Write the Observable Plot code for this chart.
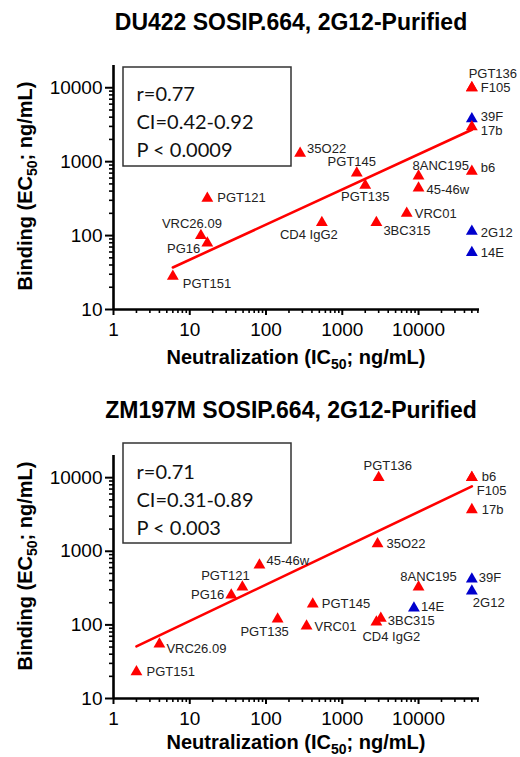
<!DOCTYPE html>
<html>
<head>
<meta charset="utf-8">
<script src="https://cdn.jsdelivr.net/npm/d3@7"></script>
<script src="https://cdn.jsdelivr.net/npm/@observablehq/plot@0.6"></script>
<style>
  html, body { margin: 0; padding: 0; background: #fff; }
  body { width: 520px; font-family: "Liberation Sans", Arial, sans-serif; }
  .title { width: 520px; box-sizing: border-box; padding-left: 62px; text-align: center;
           font-weight: bold; font-size: 23px; color: #000; white-space: nowrap; }
  svg { display: block; }
</style>
</head>
<body>
<div id="root"></div>
<script>
// ---------- data ----------
const titles = ["DU422 SOSIP.664, 2G12-Purified", "ZM197M SOSIP.664, 2G12-Purified"];
const xTitleParts = ["Neutralization (IC", "50", "; ng/mL)"];
const yTitleParts = ["Binding (EC", "50", "; ng/mL)"];
const xMajor = [1, 10, 100, 1000, 10000];
const yMajor = [10, 100, 1000, 10000];
const minorSteps = [2, 3, 4, 5, 6, 7, 8, 9];

// Panel 1: DU422
const names1 = ["PGT151","PG16","VRC26.09","PGT121","35O22","PGT145","PGT135","CD4 IgG2","3BC315","VRC01","8ANC195","45-46w","b6","17b","39F","F105","PGT136","2G12","14E"];
const neut1  = [6, 17, 14, 17, 280, 1550, 2000, 540, 2800, 7000, 10000, 10000, 50000, 50000, 50000, 50000, 50000, 50000, 50000];
const bind1  = [28, 79, 100, 320, 1300, 700, 480, 150, 150, 200, 640, 440, 740, 2950, 3800, 10000, 10000, 114, 59];
const blue1  = ["39F", "2G12", "14E"];
const fitX1  = [6, 50000];
const fitY1  = [37, 2700];
const stats1 = ["r=0.77", "CI=0.42-0.92", "P < 0.0009"];

// Panel 2: ZM197M
const names2 = ["PGT151","VRC26.09","PG16","PGT121","45-46w","PGT135","VRC01","PGT145","PGT136","35O22","3BC315","CD4 IgG2","14E","8ANC195","b6","F105","17b","39F","2G12"];
const neut2  = [2, 4, 35, 49, 82, 142, 340, 410, 3000, 2900, 3200, 2800, 8700, 10000, 50000, 50000, 50000, 50000, 50000];
const bind2  = [23, 55, 254, 327, 650, 120, 96, 191, 10000, 1260, 123, 109, 169, 327, 10000, 10000, 3670, 420, 288];
const blue2  = ["14E", "39F", "2G12"];
const fitX2  = [2, 50000];
const fitY2  = [51, 7600];
const stats2 = ["r=0.71", "CI=0.31-0.89", "P < 0.003"];

// ---------- layout (label placement: dx, dy, anchor) ----------
const pos1 = {
  "PGT151": [10, 7, "start"], "PG16": [-7, 6, "end"], "VRC26.09": [-9, -12, "middle"],
  "PGT121": [10, 0, "start"], "35O22": [7, -4, "start"], "PGT145": [-5, -11, "middle"],
  "PGT135": [0, 12, "middle"], "CD4 IgG2": [-13, 12, "middle"], "3BC315": [7, 8, "start"],
  "VRC01": [8, 0, "start"], "8ANC195": [-6, -10, "start"], "45-46w": [8, 2, "start"],
  "b6": [9, -4, "start"], "17b": [9, 4, "start"], "39F": [9, -2, "start"],
  "F105": [9, 0, "start"], "PGT136": [21, -14, "middle"], "2G12": [9, 1, "start"], "14E": [9, 0, "start"]
};
const pos2 = {
  "PGT151": [10, 0, "start"], "VRC26.09": [7, 5, "start"], "PG16": [-7, 0, "end"],
  "PGT121": [-17, -11, "middle"], "45-46w": [7, -4, "start"], "PGT135": [-13, 13, "middle"],
  "VRC01": [8, 1, "start"], "PGT145": [9, 0, "start"], "PGT136": [9, -12, "middle"],
  "35O22": [9, 0, "start"], "3BC315": [7, 3, "start"], "CD4 IgG2": [15, 15, "middle"],
  "14E": [7, -1, "start"], "8ANC195": [10, -10, "middle"], "b6": [10, -1, "start"],
  "F105": [5, 13, "start"], "17b": [10, 0, "start"], "39F": [7, -1, "start"], "2G12": [1, 12, "start"]
};

const RED = "#ff0000", BLUE = "#0000cd";
const FONT = "'Liberation Sans', Arial, sans-serif";
const X_MAX = 63000, Y_MAX = 20000;
const xMinor = xMajor.flatMap(d => minorSteps.map(k => d * k)).filter(v => v < X_MAX);
const yMinor = yMajor.flatMap(d => minorSteps.map(k => d * k)).filter(v => v < Y_MAX);

function addTitle(svg, parts, x, y, rotate) {
  const t = d3.select(svg).append("text")
    .attr("text-anchor", "middle")
    .attr("font-family", FONT).attr("font-weight", "bold").attr("font-size", 20)
    .attr("fill", "#000")
    .attr("transform", rotate ? `translate(${x},${y}) rotate(-90)` : `translate(${x},${y})`);
  t.append("tspan").text(parts[0]);
  t.append("tspan").attr("font-size", 14).attr("dy", 5).text(parts[1]);
  t.append("tspan").attr("dy", -5).text(parts[2]);
}

function panel(cfg) {
  const data = cfg.names.map((name, i) => ({
    name, neut: cfg.neut[i], bind: cfg.bind[i], color: cfg.blue.includes(name) ? BLUE : RED
  }));
  data.sort((a, b) => (a.color === BLUE ? 0 : 1) - (b.color === BLUE ? 0 : 1));
  const fit = cfg.fitX.map((x, i) => ({x, y: cfg.fitY[i]}));
  const labels = data.map(d => {
    const [dx, dy, anchor] = cfg.pos[d.name];
    return Plot.text([d], {x: "neut", y: "bind", text: "name", dx, dy, textAnchor: anchor,
      fontSize: 13, fill: "#222", fontFamily: FONT});
  });
  const svg = Plot.plot({
    width: 520, height: cfg.height,
    marginLeft: 113, marginRight: 41, marginTop: 20, marginBottom: cfg.mb,
    style: {fontFamily: FONT, background: "white", color: "black", overflow: "visible"},
    x: {type: "log", domain: [1, X_MAX]},
    y: {type: "log", domain: [10, Y_MAX]},
    color: {type: "identity"},
    marks: [
      Plot.axisX({ticks: xMinor, tickSize: 4, tickFormat: () => "", label: null, strokeWidth: 1.6}),
      Plot.axisX({ticks: xMajor, tickSize: 6, tickPadding: 7, tickFormat: d => String(d),
        label: null, fontSize: 19, strokeWidth: 2, fill: "#000"}),
      Plot.axisY({ticks: yMinor, tickSize: 4, tickFormat: () => "", label: null, strokeWidth: 1.6}),
      Plot.axisY({ticks: yMajor, tickSize: 8, tickPadding: 3, tickFormat: d => String(d),
        label: null, fontSize: 19, strokeWidth: 2, fill: "#000"}),
      Plot.ruleY([10], {stroke: "#000", strokeWidth: 2.6}),
      Plot.ruleX([1], {stroke: "#000", strokeWidth: 2.6}),
      Plot.line(fit, {x: "x", y: "y", stroke: RED, strokeWidth: 2.6}),
      Plot.dot(data, {x: "neut", y: "bind", symbol: "triangle", r: 4.4, fill: "color", stroke: "none"}),
      ...labels,
      Plot.text([cfg.stats.join("\n")], {frameAnchor: "top-left", dx: 23, dy: cfg.statsDy,
        textAnchor: "start", lineAnchor: "top", lineHeight: 1.4, fontSize: 20,
        fontFamily: "Lato, 'Open Sans', sans-serif", fill: "#111"})
    ]
  });
  // annotation frame
  d3.select(svg).append("rect")
    .attr("x", 123).attr("y", cfg.boxTop).attr("width", 168).attr("height", cfg.boxH)
    .attr("fill", "none").attr("stroke", "#333").attr("stroke-width", 1.5);
  const frameBottom = cfg.height - cfg.mb;
  addTitle(svg, xTitleParts, 296, frameBottom + cfg.xTitleOff, false);
  addTitle(svg, yTitleParts, 32, cfg.yTitleY, true);
  return svg;
}

const root = document.getElementById("root");
const t1 = document.createElement("div");
t1.className = "title"; t1.style.height = "45px"; t1.style.lineHeight = "44px"; t1.textContent = titles[0];
root.appendChild(t1);
root.appendChild(panel({names: names1, neut: neut1, bind: bind1, blue: blue1, fitX: fitX1, fitY: fitY1,
  stats: stats1, pos: pos1, height: 345, mb: 81, statsDy: 16, boxTop: 22, boxH: 99, yTitleY: 141, xTitleOff: 55}));
const t2 = document.createElement("div");
t2.className = "title"; t2.style.height = "45px"; t2.style.lineHeight = "41px"; t2.textContent = titles[1];
root.appendChild(t2);
root.appendChild(panel({names: names2, neut: neut2, bind: bind2, blue: blue2, fitX: fitX2, fitY: fitY2,
  stats: stats2, pos: pos2, height: 322, mb: 59, statsDy: 4, boxTop: 8, boxH: 100, yTitleY: 131, xTitleOff: 51}));
</script>
</body>
</html>
